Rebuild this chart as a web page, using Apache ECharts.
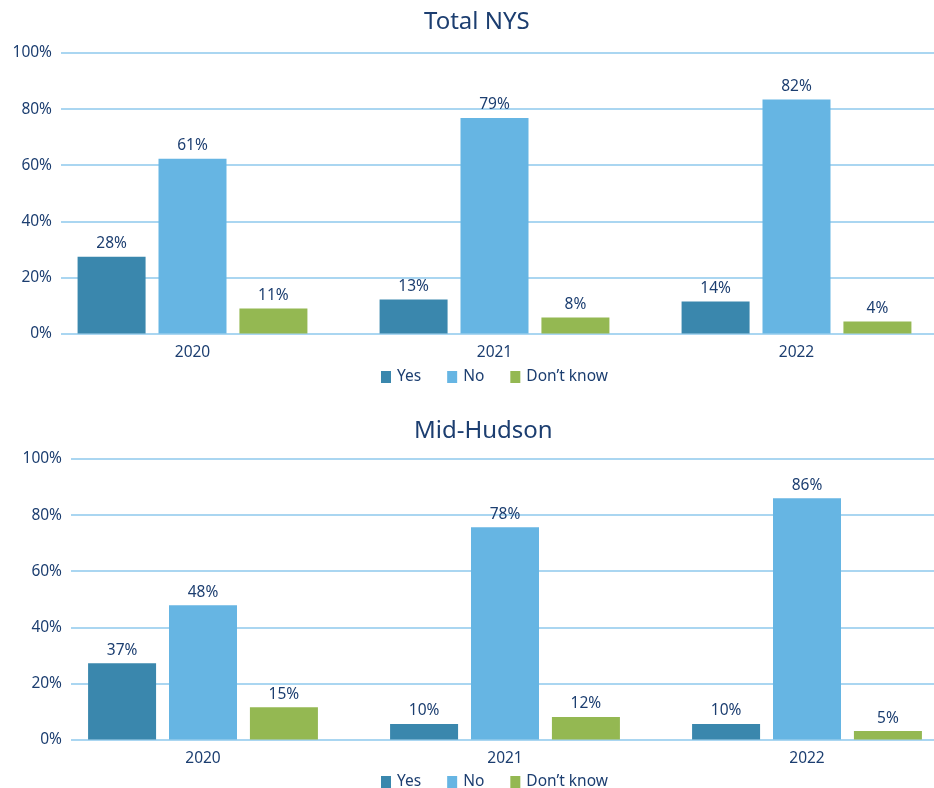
<!DOCTYPE html>
<html>
<head>
<meta charset="utf-8">
<script src="https://cdn.jsdelivr.net/npm/echarts@6/dist/echarts.min.js"></script>
<style>
  html, body { margin: 0; padding: 0; background: #ffffff; }
  #chart { width: 934px; height: 788px; }
</style>
</head>
<body>
<div id="chart"></div>
<script>
  // categories and series
  var years = ['2020', '2021', '2022'];
  var seriesNames = ['Yes', 'No', 'Don\u2019t know'];
  var titles = ['Total NYS', 'Mid-Hudson'];

  // bar heights as drawn (percent)
  var nysYes = [27.4, 12.1, 11.4];
  var nysNo = [62.3, 76.8, 83.4];
  var nysDk = [8.9, 5.7, 4.3];
  var hudYes = [27.2, 5.5, 5.5];
  var hudNo = [47.9, 75.7, 86.0];
  var hudDk = [11.5, 8.0, 3.0];

  // printed value labels
  var nysYesLbl = [28, 13, 14];
  var nysNoLbl = [61, 79, 82];
  var nysDkLbl = [11, 8, 4];
  var hudYesLbl = [37, 10, 10];
  var hudNoLbl = [48, 78, 86];
  var hudDkLbl = [15, 12, 5];

  var colors = ['#3a87ad', '#66b5e3', '#94b852'];
  var navy = '#1c3e70';
  var lineColor = '#8ec8ec';
  var font = 'Noto Sans';

  var myChart = echarts.init(document.getElementById('chart'));

  // two panels: a grid for the gridlines/y labels and a grid for the bars
  var panels = [
    {top: 53, barLeft: 41.5, lineLeft: 61, titleLeft: 424, titleTop: 10, legendTop: 364,
     values: [nysYes, nysNo, nysDk], labels: [nysYesLbl, nysNoLbl, nysDkLbl]},
    {top: 459, barLeft: 52, lineLeft: 71, titleLeft: 414, titleTop: 419, legendTop: 769,
     values: [hudYes, hudNo, hudDk], labels: [hudYesLbl, hudNoLbl, hudDkLbl]}
  ];

  var option = {
    backgroundColor: '#ffffff',
    animation: false,
    textStyle: {fontFamily: font},
    title: [],
    legend: [],
    grid: [],
    xAxis: [],
    yAxis: [],
    series: []
  };

  panels.forEach(function (p, k) {
    option.title.push({
      text: titles[k],
      left: p.titleLeft,
      top: p.titleTop,
      padding: 0,
      textStyle: {color: navy, fontSize: 24, fontWeight: 'normal', fontFamily: font}
    });
    option.legend.push({
      data: seriesNames,
      left: 376,
      top: p.legendTop,
      itemWidth: 10,
      itemHeight: 12,
      itemGap: 26,
      icon: 'rect',
      textStyle: {color: navy, fontSize: 15.5, fontFamily: font, padding: [0, 0, 0, 1]}
    });

    var gLine = k * 2;
    var gBar = k * 2 + 1;
    // gridline grid
    option.grid.push({left: p.lineLeft, right: 0, top: p.top, height: 280.5, outerBoundsMode: 'none'});
    // bar grid (wider than the gridlines, as in the source)
    option.grid.push({left: p.barLeft, width: 906, top: p.top, height: 280.5, outerBoundsMode: 'none'});

    option.xAxis.push({
      gridIndex: gLine, type: 'value', min: 0, max: 1, show: false
    });
    option.yAxis.push({
      gridIndex: gLine, type: 'value', min: 0, max: 100, interval: 20,
      axisLine: {show: false}, axisTick: {show: false},
      axisLabel: {formatter: '{value}%', color: navy, fontSize: 15.5, margin: 9, fontFamily: font},
      splitLine: {lineStyle: {color: lineColor, width: 1.6}}
    });

    option.xAxis.push({
      gridIndex: gBar, type: 'category', data: years,
      axisLine: {show: false}, axisTick: {show: false},
      axisLabel: {color: navy, fontSize: 15.5, margin: 11, fontFamily: font}
    });
    option.yAxis.push({
      gridIndex: gBar, type: 'value', min: 0, max: 100,
      show: false, splitLine: {show: false}
    });

    seriesNames.forEach(function (name, i) {
      var lbl = p.labels[i];
      option.series.push({
        name: name,
        type: 'bar',
        xAxisIndex: gBar,
        yAxisIndex: gBar,
        data: p.values[i],
        barWidth: 68,
        barGap: '19%',
        itemStyle: {color: colors[i]},
        label: {
          show: true,
          position: 'top',
          distance: 5,
          color: navy,
          fontSize: 15.5,
          fontFamily: font,
          formatter: function (params) { return lbl[params.dataIndex] + '%'; }
        }
      });
    });
  });

  myChart.setOption(option);
</script>
</body>
</html>
